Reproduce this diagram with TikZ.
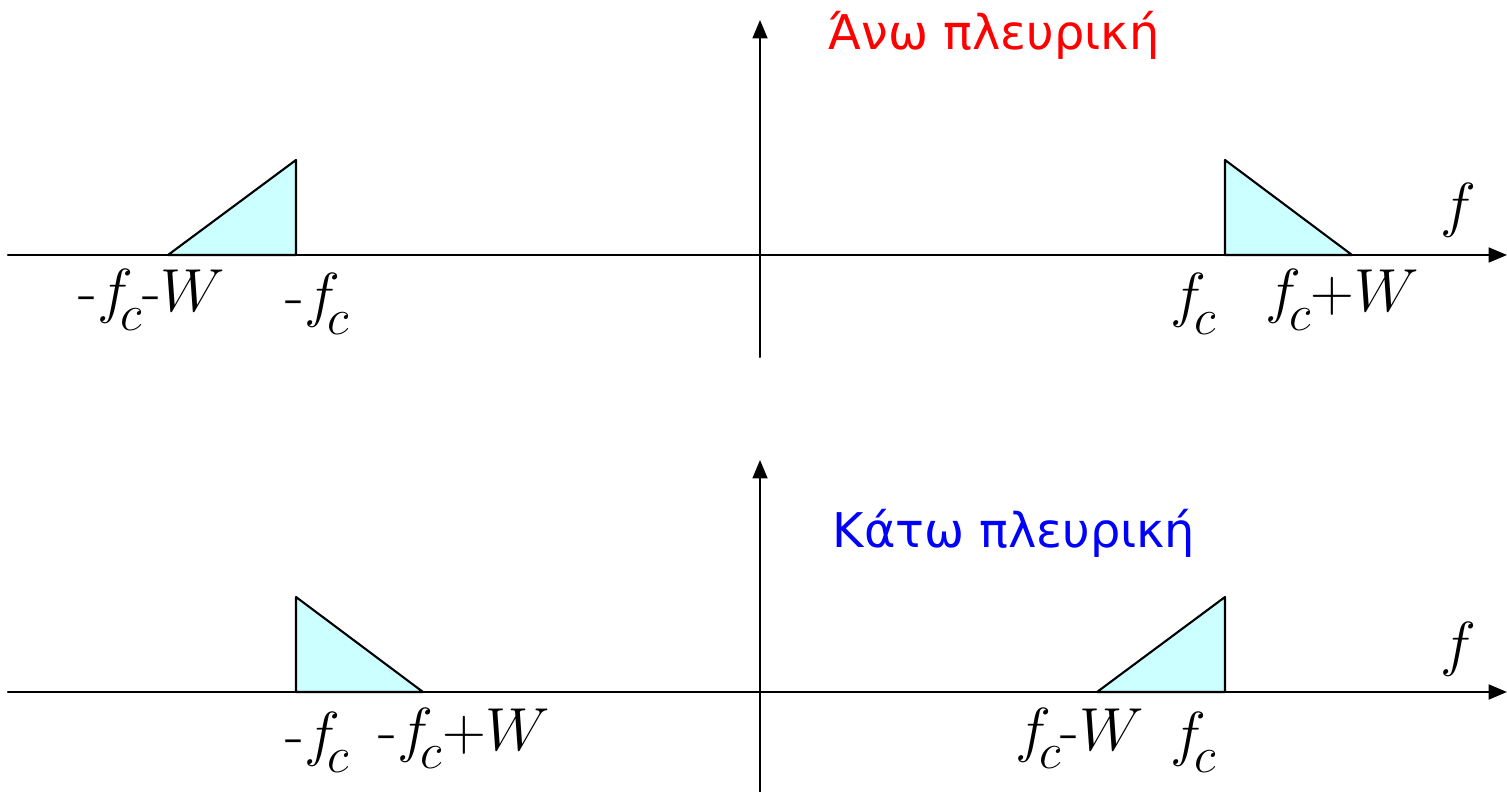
\documentclass[tikz,border=0pt]{standalone}
\usepackage{fontspec}
\newfontfamily\grfont{DejaVu Sans}
\usetikzlibrary{arrows.meta}
\definecolor{sbCyan}{RGB}{204,255,255}
\definecolor{sbRed}{RGB}{255,0,0}
\definecolor{sbBlue}{RGB}{0,0,255}
\newcommand{\fsub}{$f$\kern-0.2em\raisebox{-0.3em}{\fontsize{14}{16}\selectfont$c$}}

\begin{document}
\begin{tikzpicture}[x=0.01cm, y=-0.01cm, line cap=round, line join=round,
    axis/.style={line width=0.6pt, -{Triangle[length=5.2pt,width=4.2pt]}},
    band/.style={fill=sbCyan, draw=black, line width=0.6pt},
    flabel/.style={anchor=base west, inner sep=0pt, font=\fontsize{17.5}{21}\selectfont},
    sbtext/.style={anchor=base west, inner sep=0pt, font=\grfont\fontsize{13.6}{16}\selectfont}]
    \useasboundingbox (0,0) rectangle (1507,792);
    % upper sideband
    \coordinate (uL) at (8,255);
    \coordinate (uR) at (1507,255);
    \coordinate (uB) at (760,357);
    \coordinate (uT) at (760,20);
    \draw[band] (168,255) -- (296,160) -- (296,255) -- cycle;
    \draw[band] (1225,255) -- (1225,160) -- (1352,255) -- cycle;
    \draw[axis] (uL) -- (uR);
    \draw[axis] (uB) -- (uT);
    \node[flabel] (uf) at (1440,226) {$f$};
    \node[flabel] (ua) at (78,312) {-\fsub-$W$};
    \node[flabel] (ub) at (285,316) {-\fsub};
    \node[flabel] (uc) at (1170,316) {\fsub};
    \node[flabel] (ud) at (1265,312) {\fsub$+W$};
    \node[sbtext, text=sbRed] (utxt) at (828,50) {Άνω πλευρική};
    % lower sideband
    \coordinate (lL) at (8,692);
    \coordinate (lR) at (1507,692);
    \coordinate (lB) at (760,792);
    \coordinate (lT) at (760,460);
    \draw[band] (296,692) -- (296,597) -- (423,692) -- cycle;
    \draw[band] (1097,692) -- (1225,597) -- (1225,692) -- cycle;
    \draw[axis] (lL) -- (lR);
    \draw[axis] (lB) -- (lT);
    \node[flabel] (lf) at (1440,664) {$f$};
    \node[flabel] (la) at (285,754) {-\fsub};
    \node[flabel] (lb) at (378,750) {-\fsub$+W$};
    \node[flabel] (lc) at (1015,750) {\fsub-$W$};
    \node[flabel] (ld) at (1170,754) {\fsub};
    \node[sbtext, text=sbBlue] (ltxt) at (832,548) {Κάτω πλευρική};
\end{tikzpicture}
\end{document}
